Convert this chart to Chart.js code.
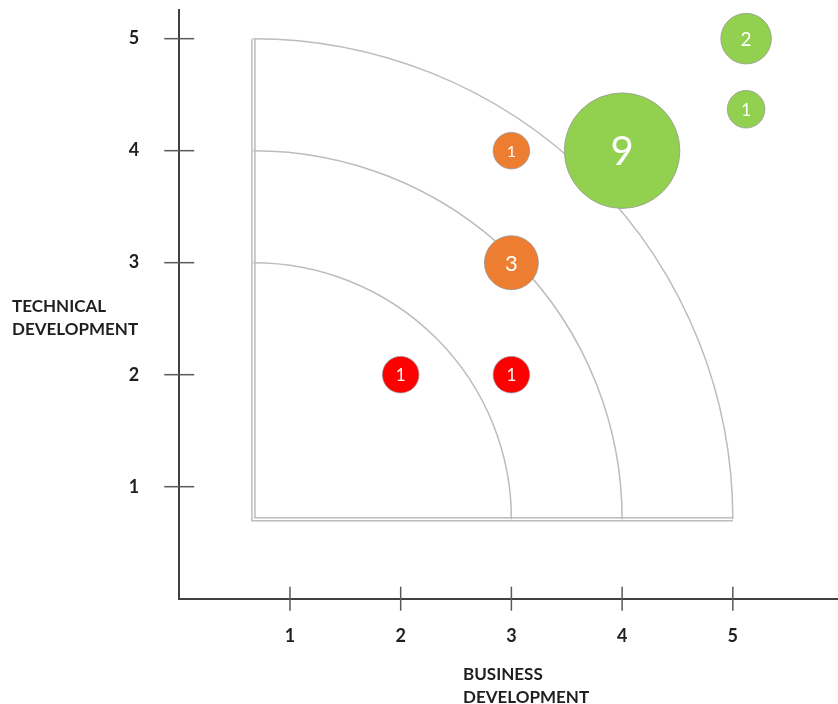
<!DOCTYPE html>
<html>
<head>
<meta charset="utf-8">
<script src="https://cdn.jsdelivr.net/npm/chart.js@4/dist/chart.umd.min.js"></script>
<style>
html,body{margin:0;padding:0;background:#fff;}
#wrap{width:838px;height:704px;}
</style>
</head>
<body>
<div id="wrap"><canvas id="myChart"></canvas></div>
<script>
// bubbles
const bizDev  = [2, 3, 3, 3, 4, 5.12, 5.12];
const techDev = [2, 2, 4, 3, 4, 5, 4.37];
const counts  = [1, 1, 1, 3, 9, 2, 1];
const groups  = ['red', 'red', 'orange', 'orange', 'green', 'green', 'green'];
const tickValues = [1, 2, 3, 4, 5];
const arcRadii = [3, 4, 5];
const arcOrigin = [0.67, 0.71];
const xTitle = ['BUSINESS', 'DEVELOPMENT'];
const yTitle = ['TECHNICAL', 'DEVELOPMENT'];

// sizes (px)
const radii = [18.3, 18.3, 18.3, 27, 57.8, 25.3, 18.8];
const labelSizes = [17, 17, 16, 22, 40, 19, 17];
const groupColors = {red: '#ff0000', orange: '#ed7d31', green: '#92d050'};

const datasets = Object.keys(groupColors).map(g => {
  const data = [];
  groups.forEach((gr, i) => {
    if (gr === g) data.push({x: bizDev[i], y: techDev[i], r: radii[i], n: counts[i], size: labelSizes[i]});
  });
  return {
    label: g,
    data: data,
    backgroundColor: groupColors[g],
    borderColor: 'rgba(150,150,150,0.75)',
    borderWidth: 1,
    clip: false
  };
});

const decor = {
  id: 'decor',
  beforeDatasetsDraw(chart) {
    const {ctx, scales: {x, y}} = chart;
    const ox = x.getPixelForValue(arcOrigin[0]);
    const oy = y.getPixelForValue(arcOrigin[1]);
    ctx.save();
    ctx.strokeStyle = '#bcbcbc';
    ctx.lineWidth = 1.5;
    arcRadii.forEach(r => {
      const rx = x.getPixelForValue(r) - ox;
      const ry = oy - y.getPixelForValue(r);
      ctx.beginPath();
      ctx.ellipse(ox, oy, rx, ry, 0, -Math.PI / 2, 0);
      ctx.stroke();
    });
    // double edged frame
    const outer = arcRadii[arcRadii.length - 1];
    const top = y.getPixelForValue(outer), right = x.getPixelForValue(outer);
    [0, 3].forEach(d => {
      ctx.beginPath();
      ctx.moveTo(ox - 1.5 + d, top);
      ctx.lineTo(ox - 1.5 + d, oy + 1.5 - d);
      ctx.lineTo(right, oy + 1.5 - d);
      ctx.stroke();
    });
    ctx.restore();
  },
  afterDatasetsDraw(chart) {
    const {ctx, scales: {x, y}} = chart;
    ctx.save();
    // bubble counts
    ctx.fillStyle = '#ffffff';
    ctx.textAlign = 'center';
    ctx.textBaseline = 'middle';
    chart.data.datasets.forEach((ds, di) => {
      chart.getDatasetMeta(di).data.forEach((el, i) => {
        const p = ds.data[i];
        ctx.font = p.size + 'px Lato';
        ctx.fillText(String(p.n), el.x, el.y + 1);
      });
    });
    // crossing tick marks
    ctx.strokeStyle = '#5a5a5a';
    ctx.lineWidth = 1.5;
    const ax = chart.chartArea.left;
    const ay = chart.chartArea.bottom;
    tickValues.forEach(v => {
      const py = y.getPixelForValue(v);
      ctx.beginPath(); ctx.moveTo(ax - 15, py); ctx.lineTo(ax + 15, py); ctx.stroke();
      const px = x.getPixelForValue(v);
      ctx.beginPath(); ctx.moveTo(px, ay - 12); ctx.lineTo(px, ay + 12); ctx.stroke();
    });
    // axis titles
    ctx.fillStyle = '#1f1f1f';
    ctx.font = 'bold 17px Lato';
    ctx.textAlign = 'left';
    ctx.textBaseline = 'alphabetic';
    yTitle.forEach((t, i) => ctx.fillText(t, 12, 312 + i * 23));
    xTitle.forEach((t, i) => ctx.fillText(t, 463, 680 + i * 23));
    ctx.restore();
  }
};

const tickFont = {family: 'Lato', weight: 'bold', size: 18};

new Chart(document.getElementById('myChart'), {
  type: 'bubble',
  data: {datasets: datasets},
  options: {
    responsive: true,
    maintainAspectRatio: false,
    animation: false,
    events: [],
    layout: {autoPadding: false, padding: {top: 10, right: 0, left: 0, bottom: 0}},
    plugins: {legend: {display: false}, tooltip: {enabled: false}},
    scales: {
      x: {
        type: 'linear', min: 0, max: 5.95,
        grid: {display: false, drawTicks: false},
        border: {color: '#404040', width: 2},
        ticks: {padding: 27, color: '#1f1f1f', font: tickFont},
        afterBuildTicks: s => { s.ticks = tickValues.map(v => ({value: v})); },
        afterFit: s => { s.height = 105.3; s.paddingLeft = 0; s.paddingRight = 0; }
      },
      y: {
        type: 'linear', min: 0, max: 5.256,
        grid: {display: false, drawTicks: false},
        border: {color: '#404040', width: 2},
        ticks: {padding: 40, color: '#1f1f1f', font: tickFont},
        afterBuildTicks: s => { s.ticks = tickValues.map(v => ({value: v})); },
        afterFit: s => { s.width = 179.25; s.paddingTop = 0; s.paddingBottom = 0; }
      }
    }
  },
  plugins: [decor]
});
</script>
</body>
</html>
